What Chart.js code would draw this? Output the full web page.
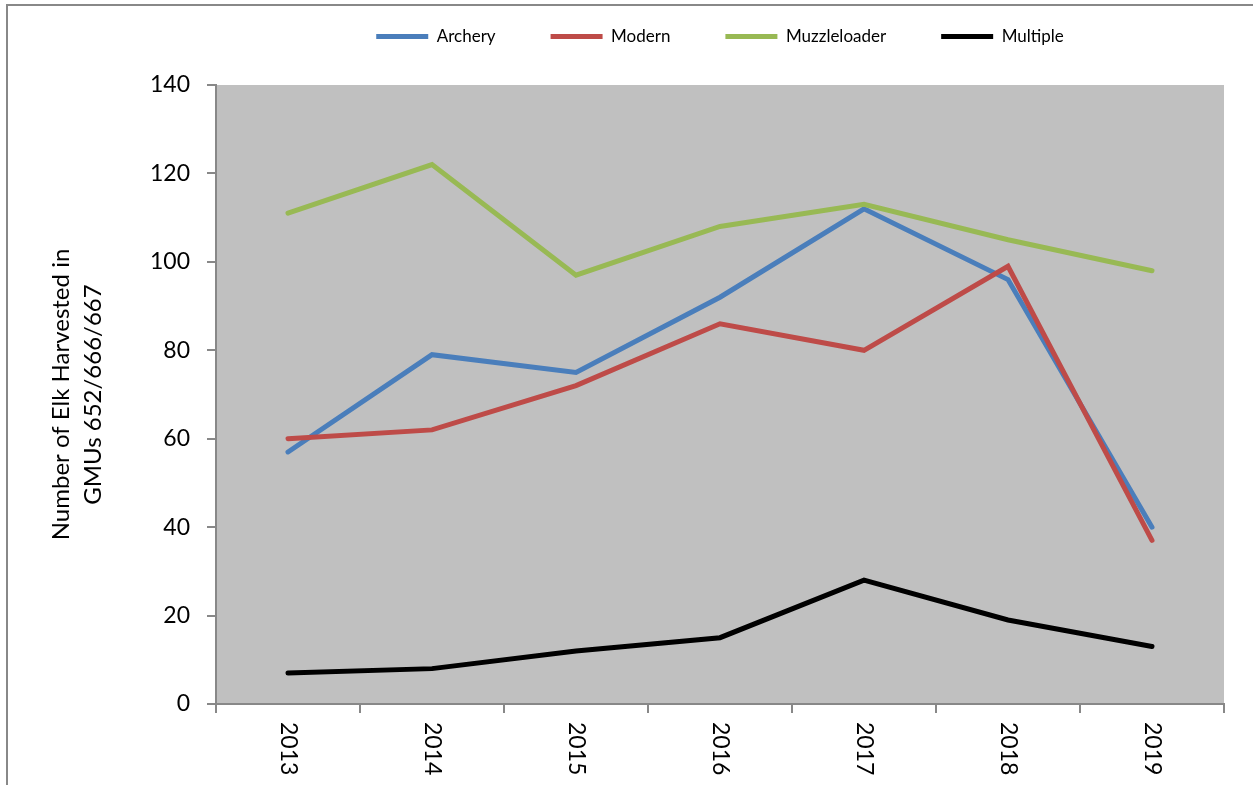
<!DOCTYPE html>
<html><head><meta charset="utf-8">
<script src="https://cdn.jsdelivr.net/npm/chart.js@4/dist/chart.umd.min.js"></script>
<style>
html,body{margin:0;padding:0;background:#fff;}
#wrap{position:relative;width:1253px;height:785px;overflow:hidden;}
#frame{position:absolute;left:6px;top:4px;width:1260px;height:800px;border-left:2px solid #888;border-top:2px solid #888;}
canvas{position:absolute;left:0;top:0;}
</style></head><body>
<div id="wrap"><div id="frame"></div><canvas id="c" width="1253" height="785"></canvas></div>
<script>
const years = ['2013', '2014', '2015', '2016', '2017', '2018', '2019'];
const archery = [57, 79, 75, 92, 112, 96, 40];
const modern = [60, 62, 72, 86, 80, 99, 37];
const muzzleloader = [111, 122, 97, 108, 113, 105, 98];
const multiple = [7, 8, 12, 15, 28, 19, 13];
const yTitle = ['Number of Elk Harvested in', 'GMUs 652/666/667'];

const FONT = 'Lato';
const AXIS = '#888888';

const plotBg = {
  id: 'plotBg',
  beforeDraw(chart) {
    const a = chart.chartArea, ctx = chart.ctx;
    ctx.save();
    ctx.fillStyle = '#c0c0c0';
    ctx.fillRect(a.left, a.top, a.right - a.left, a.bottom - a.top);
    ctx.restore();
  }
};
const xLabels = {
  id: 'xLabels',
  afterDraw(chart) {
    const xs = chart.scales.x, ctx = chart.ctx;
    ctx.save();
    ctx.font = '23px ' + FONT;
    ctx.fillStyle = '#000';
    ctx.textAlign = 'left';
    ctx.textBaseline = 'middle';
    years.forEach((lab, i) => {
      const x = xs.getPixelForTick(i);
      ctx.save();
      ctx.translate(x, chart.chartArea.bottom + 18);
      ctx.rotate(Math.PI / 2);
      ctx.fillText(lab, 0, 0);
      ctx.restore();
    });
    ctx.restore();
  }
};

function ds(label, data, color, order) {
  return { label, data, borderColor: color, backgroundColor: color, borderWidth: 5,
    pointRadius: 0, pointHoverRadius: 0, tension: 0, fill: false,
    borderCapStyle: 'round', borderJoinStyle: 'miter', order };
}

new Chart(document.getElementById('c'), {
  type: 'line',
  data: {
    labels: years,
    datasets: [
      ds('Archery', archery, '#4a7ebb', 3),
      ds('Modern', modern, '#be4b48', 2),
      ds('Muzzleloader', muzzleloader, '#98b954', 1),
      ds('Multiple', multiple, '#000000', 0)
    ]
  },
  options: {
    responsive: false,
    animation: false,
    devicePixelRatio: 1,
    layout: { padding: { top: -27, left: 0, right: 29, bottom: 0 } },
    plugins: {
      tooltip: { enabled: false },
      legend: {
        position: 'top',
        fullSize: false,
        labels: {
          font: { family: FONT, size: 17 },
          color: '#000',
          boxWidth: 52,
          boxHeight: 5,
          padding: 55,
          useBorderRadius: true,
          borderRadius: 2.5,
          sort: (a, b) => a.datasetIndex - b.datasetIndex,
          generateLabels(chart) {
            return chart.data.datasets.map((d, i) => ({
              text: d.label, fillStyle: d.borderColor, strokeStyle: d.borderColor,
              lineWidth: 0, hidden: false, datasetIndex: i, fontColor: '#000'
            }));
          }
        }
      }
    },
    scales: {
      x: {
        type: 'category',
        offset: true,
        grid: { offset: true, drawOnChartArea: false, drawTicks: true, tickLength: 9, color: AXIS, lineWidth: 2 },
        border: { display: true, color: AXIS, width: 2 },
        ticks: { display: false },
        afterFit(s) { s.height = 81; }
      },
      x2: {
        type: 'category',
        position: 'top',
        grid: { display: false, drawTicks: false },
        border: { display: false },
        ticks: { display: false },
        afterFit(s) { s.height = 30; }
      },
      y: {
        min: 0, max: 140,
        ticks: { stepSize: 20, padding: 17, color: '#000', font: { family: FONT, size: 23 } },
        grid: { drawOnChartArea: false, drawTicks: true, tickLength: 9, color: AXIS, lineWidth: 2 },
        border: { display: true, color: AXIS, width: 2 },
        title: { display: true, text: yTitle, color: '#000', font: { family: FONT, size: 24, lineHeight: 1.3 }, padding: { top: 46, bottom: 0 } },
        afterFit(s) { s.width = 216; }
      }
    }
  },
  plugins: [plotBg, xLabels]
});
</script>
</body></html>
